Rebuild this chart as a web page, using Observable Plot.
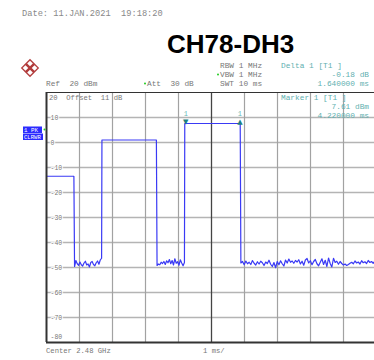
<!DOCTYPE html>
<html>
<head>
<meta charset="utf-8">
<script src="https://cdn.jsdelivr.net/npm/d3@7"></script>
<script src="https://cdn.jsdelivr.net/npm/@observablehq/plot@0.6"></script>
<style>
  html, body { margin: 0; padding: 0; background: #fff; overflow: hidden; }
  #wrap { position: relative; width: 374px; height: 360px; overflow: hidden; }
  #wrap svg { position: absolute; left: 0; top: 0; max-width: none !important; width: 390px !important; height: 360px !important; }
</style>
</head>
<body>
<div id="wrap"></div>
<script>
// ---- data ----
const timeTicks = [1, 2, 3, 4, 5, 6, 7, 8, 9];            // ms (1 ms/div)
const levelTicks = [10, 0, -10, -20, -30, -40, -50, -60, -70]; // dBm
const levelLabels = ["10", "0", "-10", "-20", "-30", "-40", "-50", "-60", "-70"];

// burst (pulse) plateaus
const burstStart = [0, 1.68, 4.19];
const burstEnd   = [0.83, 3.33, 5.87];
const burstLevel = [-13.5, 1.0, 7.6];

// noise floor between bursts
const noiseStart = [0.85, 3.35, 5.89];
const noiseEnd   = [1.67, 4.18, 10.0];
const noise1 = [-49.6, -47.2, -48.5, -49.1, -47.8, -48.9, -49.4, -48.2, -47.5, -49.0, -48.6,
                -49.8, -48.0, -47.6, -48.8, -49.3, -48.1, -47.4, -48.7, -47.0, -46.3];
const noise2 = [-49.2, -48.6, -48.9, -47.9, -48.4, -47.6, -48.8, -47.3, -48.1, -46.8, -48.5,
                -47.2, -49.0, -46.5, -48.3, -47.7, -49.1, -46.9, -48.2, -49.3, -48.0];
const noise3 = [-48.2, -47.6, -48.9, -47.4, -48.5, -47.9, -48.8, -47.2, -48.3, -49.0,
                -47.7, -48.6, -47.5, -48.1, -49.2, -47.8, -48.4, -47.1, -48.7, -49.6,
                -48.0, -50.1, -47.6, -48.9, -47.3, -48.5, -49.4, -47.0, -48.2, -46.6,
                -47.9, -47.4, -48.3, -47.2, -47.8, -46.9, -48.6, -47.5, -49.1, -47.0,
                -46.4, -48.2, -47.3, -48.9, -47.6, -46.8, -48.5, -49.3, -47.9, -46.5,
                -48.8, -47.1, -49.6, -46.2, -48.4, -49.8, -46.3, -48.0, -47.5, -48.7,
                -47.6, -48.4, -49.0, -48.6, -49.2, -48.8, -48.3, -47.9, -48.5, -47.4,
                -48.2, -47.8, -48.6, -47.3, -48.1, -47.7, -48.4, -47.2, -48.0, -47.6,
                -48.3, -47.5, -47.9];
const noiseSeries = [noise1, noise2, noise3];

// markers
const markerTime  = [4.22, 5.86];
const markerLevel = [7.61, 7.43];
const markerGlyph = ["▼", "▲"];

// ---- build trace ----
const trace = [];
for (let k = 0; k < 3; k++) {
  trace.push({t: burstStart[k], v: burstLevel[k]});
  trace.push({t: burstEnd[k], v: burstLevel[k]});
  const n = noiseSeries[k];
  const dt = (noiseEnd[k] - noiseStart[k]) / (n.length - 1);
  n.forEach((v, i) => trace.push({t: noiseStart[k] + i * dt, v}));
}
const markers = markerTime.map((t, i) => ({t, v: markerLevel[i], g: markerGlyph[i]}));

const mono = "'Liberation Mono', 'DejaVu Sans Mono', monospace";

const chart = Plot.plot({
  width: 390,
  height: 360,
  marginLeft: 46,
  marginRight: 14,
  marginTop: 92,
  marginBottom: 18,
  x: {domain: [0, 10], axis: null},
  y: {domain: [-80, 20], axis: null},
  style: {background: "transparent", overflow: "visible", maxWidth: "none"},
  marks: [
    Plot.ruleY(levelTicks, {stroke: "#b4b4b4", strokeWidth: 1.3}),
    Plot.ruleX(timeTicks.filter(d => d !== 5), {stroke: "#a2a2a2", strokeWidth: 1.2}),
    Plot.ruleX([5], {stroke: "#444", strokeWidth: 1.3}),
    Plot.text(levelTicks, {
      x: 0, y: d => d, text: (d, i) => levelLabels[i], textAnchor: "start", dx: 4,
      fill: "#777", stroke: "white", strokeWidth: 2, fontSize: 6.5, fontFamily: mono
    }),
    Plot.text(["-80"], {
      x: 0, y: -80, text: d => d, textAnchor: "start", dx: 4, dy: -6,
      fill: "#777", fontSize: 6.5, fontFamily: mono
    }),
    Plot.line(trace, {x: "t", y: "v", stroke: "#3a3af5", strokeWidth: 1.2}),
    Plot.text(markers, {
      x: "t", y: "v", text: "g", dy: -2, fill: "#1d7f7f", fontSize: 7, fontFamily: "DejaVu Sans"
    }),
    Plot.text(markers, {
      x: "t", y: "v", text: () => "1", dy: -10, fill: "#6ab8b8", fontSize: 7, fontFamily: mono
    }),
    Plot.ruleY([20], {stroke: "#333", strokeWidth: 1.2}),
    Plot.ruleY([-80], {stroke: "#333", strokeWidth: 2}),
    Plot.ruleX([0], {stroke: "#333", strokeWidth: 2}),
    Plot.ruleX([10], {stroke: "#333", strokeWidth: 1.2})
  ]
});

document.getElementById("wrap").appendChild(chart);

// ---- header / annotation texts ----
const svg = d3.select(chart);
function txt(x, y, s, opts = {}) {
  const t = svg.append("text")
    .attr("x", x).attr("y", y)
    .attr("font-family", opts.family || mono)
    .attr("font-size", opts.size || 7.8)
    .attr("fill", opts.fill || "#777")
    .attr("text-anchor", opts.anchor || "start")
    .attr("font-weight", opts.weight || "normal")
    .text(s);
  return t;
}
txt(22, 16, "Date: 11.JAN.2021  19:18:20", {size: 8.7, fill: "#888"});
txt(167, 53, "CH78-DH3", {family: "'Liberation Sans', Arial, sans-serif", size: 26, fill: "#000", weight: "bold"});

txt(220, 68, "RBW 1 MHz");
txt(220, 77, "VBW 1 MHz");
txt(220, 86, "SWT 10 ms");
txt(46, 86, "Ref  20 dBm");
txt(147, 86, "Att  30 dB");
svg.append("circle").attr("cx", 145).attr("cy", 83.5).attr("r", 1).attr("fill", "#2c2");
svg.append("circle").attr("cx", 218).attr("cy", 74.5).attr("r", 1).attr("fill", "#2c2");

const teal = "#5fb0b0";
txt(281, 68, "Delta 1 [T1 ]", {fill: teal});
txt(369, 77, "-0.18 dB", {fill: teal, anchor: "end"});
txt(369, 86, "1.640000 ms", {fill: teal, anchor: "end"});

txt(49, 100, "20  Offset  11 dB", {size: 7.2});
txt(281, 100, "Marker 1 [T1 ]", {fill: teal});
txt(369, 109, "7.61 dBm", {fill: teal, anchor: "end"});
txt(369, 118, "4.220000 ms", {fill: teal, anchor: "end"});

txt(46, 353, "Center 2.48 GHz", {size: 7.2});
txt(203, 353, "1 ms/", {size: 7.2});

// trace info box
svg.append("rect").attr("x", 23).attr("y", 126.5).attr("width", 19).attr("height", 6.5).attr("fill", "#2b2bff");
svg.append("rect").attr("x", 23).attr("y", 133.5).attr("width", 20).attr("height", 6.5).attr("fill", "#2b2bff");
txt(24, 132, "1 PK", {size: 5.8, fill: "#fff"});
txt(24, 139, "CLRWR", {size: 5.6, fill: "#fff"});
svg.append("circle").attr("cx", 44.5).attr("cy", 129.5).attr("r", 1).attr("fill", "#2c2");

// R&S style logo
const lg = svg.append("g").attr("transform", "translate(30,68) rotate(45)");
lg.append("rect").attr("x", -6.5).attr("y", -6.5).attr("width", 13).attr("height", 13).attr("fill", "#b23c3c");
[[-3.2, -3.2], [3.2, -3.2], [-3.2, 3.2], [3.2, 3.2]].forEach(([cx, cy]) =>
  lg.append("rect").attr("x", cx - 2).attr("y", cy - 2).attr("width", 4).attr("height", 4).attr("fill", "#fff"));
lg.append("line").attr("x1", -4.5).attr("y1", 0).attr("x2", 4.5).attr("y2", 0).attr("stroke", "#b23c3c").attr("stroke-width", 1);
lg.append("line").attr("x1", 0).attr("y1", -4.5).attr("x2", 0).attr("y2", 4.5).attr("stroke", "#b23c3c").attr("stroke-width", 1);
</script>
</body>
</html>
